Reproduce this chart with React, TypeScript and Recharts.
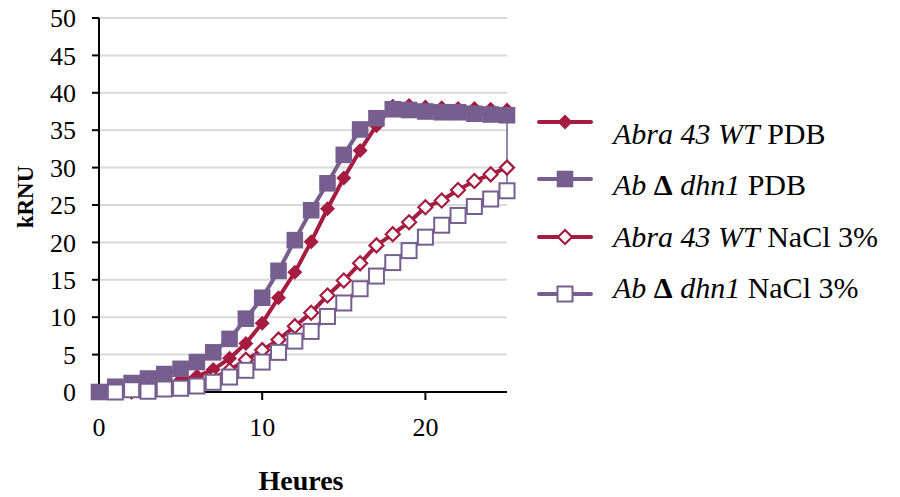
import React from 'react';
import { LineChart, Line, XAxis, YAxis, CartesianGrid } from 'recharts';

// hours of measurement
const hours = [0, 1, 2, 3, 4, 5, 6, 7, 8, 9, 10, 11, 12, 13, 14, 15, 16, 17, 18, 19, 20, 21, 22, 23, 24, 25];

// kRNU values
const abraPDB = [0, 0, 0, 0.1, 0.5, 1.6, 2.1, 3.0, 4.5, 6.5, 9.2, 12.6, 16.0, 20.1, 24.5, 28.6, 32.3, 35.6, 38.2, 38.3, 38.1, 38.0, 37.9, 37.9, 37.8, 37.7];
const dhn1PDB = [0, 0.7, 1.2, 1.8, 2.4, 3.1, 4.0, 5.3, 7.1, 9.8, 12.6, 16.2, 20.3, 24.3, 27.9, 31.7, 35.1, 36.6, 37.8, 37.7, 37.5, 37.4, 37.4, 37.2, 37.1, 37.0];
const abraNaCl = [null, 0, 0.1, 0.2, 0.4, 0.7, 1.2, 1.9, 2.9, 4.3, 5.6, 7.0, 8.8, 10.6, 12.9, 14.9, 17.2, 19.6, 21.1, 22.7, 24.7, 25.6, 27.0, 28.2, 29.1, 30.0];
const dhn1NaCl = [null, 0, 0.3, 0.1, 0.4, 0.5, 0.8, 1.3, 2.0, 2.9, 4.0, 5.3, 6.8, 8.1, 10.1, 11.9, 13.8, 15.5, 17.3, 18.9, 20.7, 22.3, 23.6, 24.8, 25.8, 26.9];

// thin stray segment at the last hour
const dropHours = [25, 25];
const dropValues = [37.0, 26.9];

const yTicks = [0, 5, 10, 15, 20, 25, 30, 35, 40, 45, 50];
const xTicks = [0, 10, 20];

const RED = '#A61B41';
const PURPLE = '#765F8E';
const FONT = '"Liberation Serif", "Times New Roman", serif';

const data = hours.map((h, i) => ({
  h,
  abraPDB: abraPDB[i],
  dhn1PDB: dhn1PDB[i],
  abraNaCl: abraNaCl[i],
  dhn1NaCl: dhn1NaCl[i],
}));
const dropData = dropHours.map((h, i) => ({ h, v: dropValues[i] }));

type Kind = 'diamond' | 'square';

function Marker({ kind, cx, cy, color, filled }: { kind: Kind; cx: number; cy: number; color: string; filled: boolean }) {
  if (kind === 'square') {
    const s = filled ? 8.3 : 7.5;
    return (
      <rect x={cx - s} y={cy - s} width={2 * s} height={2 * s}
        fill={filled ? color : '#fff'} stroke={color} strokeWidth={filled ? 0 : 2} />
    );
  }
  const r = filled ? 7.5 : 7;
  return (
    <path d={`M${cx},${cy - r}L${cx + r},${cy}L${cx},${cy + r}L${cx - r},${cy}Z`}
      fill={filled ? color : '#fff'} stroke={color} strokeWidth={filled ? 0 : 2.2} />
  );
}

const makeDot = (kind: Kind, color: string, filled: boolean) => (props: any) => {
  const { cx, cy, index, value } = props;
  if (cx == null || cy == null || value == null) return <g key={`e-${kind}-${index}`} />;
  return <Marker key={`${kind}-${filled}-${index}`} kind={kind} cx={cx} cy={cy} color={color} filled={filled} />;
};

const legendRows = [
  { kind: 'diamond' as Kind, color: RED, filled: true, italic: 'Abra 43 WT', rest: ' PDB', delta: false },
  { kind: 'square' as Kind, color: PURPLE, filled: true, italic: 'dhn1', rest: ' PDB', delta: true },
  { kind: 'diamond' as Kind, color: RED, filled: false, italic: 'Abra 43 WT', rest: ' NaCl 3%', delta: false },
  { kind: 'square' as Kind, color: PURPLE, filled: false, italic: 'dhn1', rest: ' NaCl 3%', delta: true },
];

function ChartLegend() {
  return (
    <>
      {legendRows.map((r, i) => {
        const iconY = 122 + i * 57.4;
        const textY = 134 + i * 51.3;
        return (
          <React.Fragment key={i}>
            <svg style={{ position: 'absolute', left: 534, top: iconY - 12 }} width={62} height={24}>
              <line x1={5} y1={12} x2={57} y2={12} stroke={r.color} strokeWidth={4} strokeLinecap="round" />
              <Marker kind={r.kind} cx={31} cy={12} color={r.color} filled={r.filled} />
            </svg>
            <div style={{
              position: 'absolute', left: 613, top: textY - 17, height: 34, lineHeight: '34px',
              fontFamily: FONT, fontSize: 30, color: '#000', whiteSpace: 'nowrap',
            }}>
              {r.delta ? (
                <>
                  <i>Ab </i><b>Δ</b><i> {r.italic}</i>{r.rest}
                </>
              ) : (
                <>
                  <i>{r.italic}</i>{r.rest}
                </>
              )}
            </div>
          </React.Fragment>
        );
      })}
    </>
  );
}

export default function App() {
  const tickStyle = { fill: '#000', fontSize: 26, fontFamily: FONT };
  return (
    <div style={{ position: 'absolute', left: 0, top: 0, width: 900, height: 497, background: '#fff', fontFamily: FONT }}>
      <LineChart width={900} height={497} data={data} margin={{ top: 18, right: 393, bottom: 0, left: 0 }}>
        <CartesianGrid vertical={false} stroke="#d9d9d9" strokeWidth={2} />
        <XAxis dataKey="h" type="number" domain={[0, 25]} ticks={xTicks} height={105}
          axisLine={{ stroke: '#000', strokeWidth: 2 }} tickLine={{ stroke: '#000', strokeWidth: 2 }}
          tickSize={8} tickMargin={18} tick={tickStyle}
          label={{
            content: (p: any) => (
              <text x={p.viewBox.x + p.viewBox.width / 2 - 2} y={p.viewBox.y + 98} textAnchor="middle"
                fontFamily={FONT} fontWeight="bold" fontSize={28} fill="#000">Heures</text>
            ),
          }} />
        <YAxis type="number" domain={[0, 50]} ticks={yTicks} width={99} interval={0}
          axisLine={{ stroke: '#000', strokeWidth: 2 }} tickLine={{ stroke: '#000', strokeWidth: 2 }}
          tickSize={7} tickMargin={16} tick={tickStyle}
          label={{
            content: (p: any) => {
              const x = p.viewBox.x + 25;
              const y = p.viewBox.y + p.viewBox.height / 2 - 8;
              return (
                <text x={x} y={y} transform={`rotate(-90 ${x} ${y})`} textAnchor="middle" dominantBaseline="central"
                  fontFamily={FONT} fontWeight="bold" fontSize={23} fill="#000">kRNU</text>
              );
            },
          }} />
        <Line type="linear" dataKey="abraPDB" stroke={RED} strokeWidth={4} dot={makeDot('diamond', RED, true)}
          activeDot={false} isAnimationActive={false} />
        <Line type="linear" dataKey="dhn1PDB" stroke={PURPLE} strokeWidth={4} dot={makeDot('square', PURPLE, true)}
          activeDot={false} isAnimationActive={false} />
        <Line type="linear" data={dropData} dataKey="v" stroke={PURPLE} strokeWidth={1.5} dot={false}
          activeDot={false} isAnimationActive={false} />
        <Line type="linear" dataKey="abraNaCl" stroke={RED} strokeWidth={4} dot={makeDot('diamond', RED, false)}
          activeDot={false} isAnimationActive={false} />
        <Line type="linear" dataKey="dhn1NaCl" stroke={PURPLE} strokeWidth={4} dot={makeDot('square', PURPLE, false)}
          activeDot={false} isAnimationActive={false} />
      </LineChart>
      <ChartLegend />
    </div>
  );
}
